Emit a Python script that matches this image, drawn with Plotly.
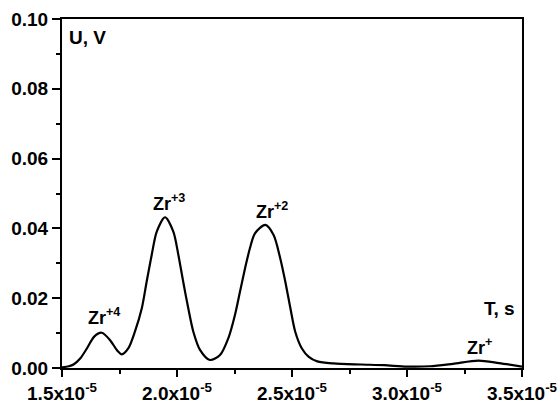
import plotly.graph_objects as go

# Time (units of 1e-5 s) and voltage
t_e5 = [1.50, 1.53, 1.55, 1.58, 1.61, 1.64, 1.673, 1.71, 1.74, 1.76, 1.788,
        1.817, 1.847, 1.868, 1.89, 1.912, 1.948, 1.984, 2.006, 2.027, 2.049,
        2.071, 2.100, 2.143, 2.187, 2.223, 2.252, 2.274, 2.296, 2.317, 2.339,
        2.384, 2.420, 2.449, 2.471, 2.493, 2.514, 2.543, 2.573, 2.61, 2.68,
        2.80, 2.90, 3.00, 3.10, 3.20, 3.31, 3.40, 3.50]
u_v = [0.0002, 0.0005, 0.0010, 0.0028, 0.0058, 0.0090, 0.0101, 0.0079, 0.0050,
       0.0039, 0.0056, 0.0104, 0.0171, 0.0247, 0.0324, 0.0391, 0.0432, 0.0391,
       0.0324, 0.0247, 0.0171, 0.0104, 0.0052, 0.0023, 0.0037, 0.0085, 0.0152,
       0.0219, 0.0286, 0.0343, 0.0386, 0.0410, 0.0381, 0.0314, 0.0247, 0.0171,
       0.0104, 0.0056, 0.0032, 0.0019, 0.0013, 0.0010, 0.0008, 0.0004, 0.0005,
       0.0012, 0.0021, 0.0014, 0.0004]
t = [v * 1e-5 for v in t_e5]

x_ticks_e5 = [1.5, 2.0, 2.5, 3.0, 3.5]
x_tick_labels = ["1.5x10<sup>-5</sup>", "2.0x10<sup>-5</sup>", "2.5x10<sup>-5</sup>",
                 "3.0x10<sup>-5</sup>", "3.5x10<sup>-5</sup>"]
x_minor_e5 = [1.75, 2.25, 2.75, 3.25]

peak_labels = ["Zr<sup>+4</sup>", "Zr<sup>+3</sup>", "Zr<sup>+2</sup>", "Zr<sup>+</sup>"]
peak_label_x_e5 = [1.683, 1.965, 2.413, 3.317]
peak_label_y = [0.0149, 0.0473, 0.0452, 0.0063]

FONT = "Arial, Liberation Sans, sans-serif"

fig = go.Figure()
fig.add_trace(go.Scatter(x=t, y=u_v, mode="lines",
                         line=dict(color="black", width=2.2, shape="spline", smoothing=0.8),
                         showlegend=False, hoverinfo="skip"))

for txt, xv, yv in zip(peak_labels, peak_label_x_e5, peak_label_y):
    fig.add_annotation(x=xv * 1e-5, y=yv, text="<b>" + txt + "</b>", showarrow=False,
                       xanchor="center", yanchor="middle",
                       font=dict(family=FONT, size=18, color="black"))

fig.add_annotation(x=3.404e-5, y=0.0170, text="<b>T, s</b>", showarrow=False,
                   xanchor="center", yanchor="middle",
                   font=dict(family=FONT, size=19, color="black"))
fig.add_annotation(x=1.613e-5, y=0.0946, text="<b>U, V</b>", showarrow=False,
                   xanchor="center", yanchor="middle",
                   font=dict(family=FONT, size=19, color="black"))

fig.update_xaxes(range=[1.5e-5, 3.5e-5], tickmode="array",
                 tickvals=[v * 1e-5 for v in x_ticks_e5],
                 ticktext=["<b>" + s + "</b>" for s in x_tick_labels],
                 ticks="outside", ticklen=7, tickwidth=2, tickcolor="black",
                 minor=dict(tickmode="array", tickvals=[v * 1e-5 for v in x_minor_e5],
                            ticks="outside", ticklen=4, tickwidth=2, tickcolor="black",
                            showgrid=False),
                 showline=True, linewidth=2, linecolor="black", mirror=True,
                 showgrid=False, zeroline=False,
                 tickfont=dict(family=FONT, size=19, color="black"))
fig.update_yaxes(range=[0, 0.1], tickmode="linear", tick0=0, dtick=0.02,
                 tickformat=".2f",
                 ticks="outside", ticklen=8, tickwidth=2, tickcolor="black",
                 minor=dict(dtick=0.01, ticks="outside", ticklen=4, tickwidth=2,
                            tickcolor="black", showgrid=False),
                 showline=True, linewidth=2, linecolor="black", mirror=True,
                 showgrid=False, zeroline=False,
                 tickfont=dict(family=FONT, size=19, color="black"))

fig.update_layout(width=558, height=403,
                  margin=dict(l=62, r=36, t=19, b=35, autoexpand=False),
                  plot_bgcolor="white", paper_bgcolor="white",
                  font=dict(family=FONT, color="black"))
fig.update_yaxes(tickprefix="<b>", ticksuffix="</b>")

fig.write_html("out.html")
